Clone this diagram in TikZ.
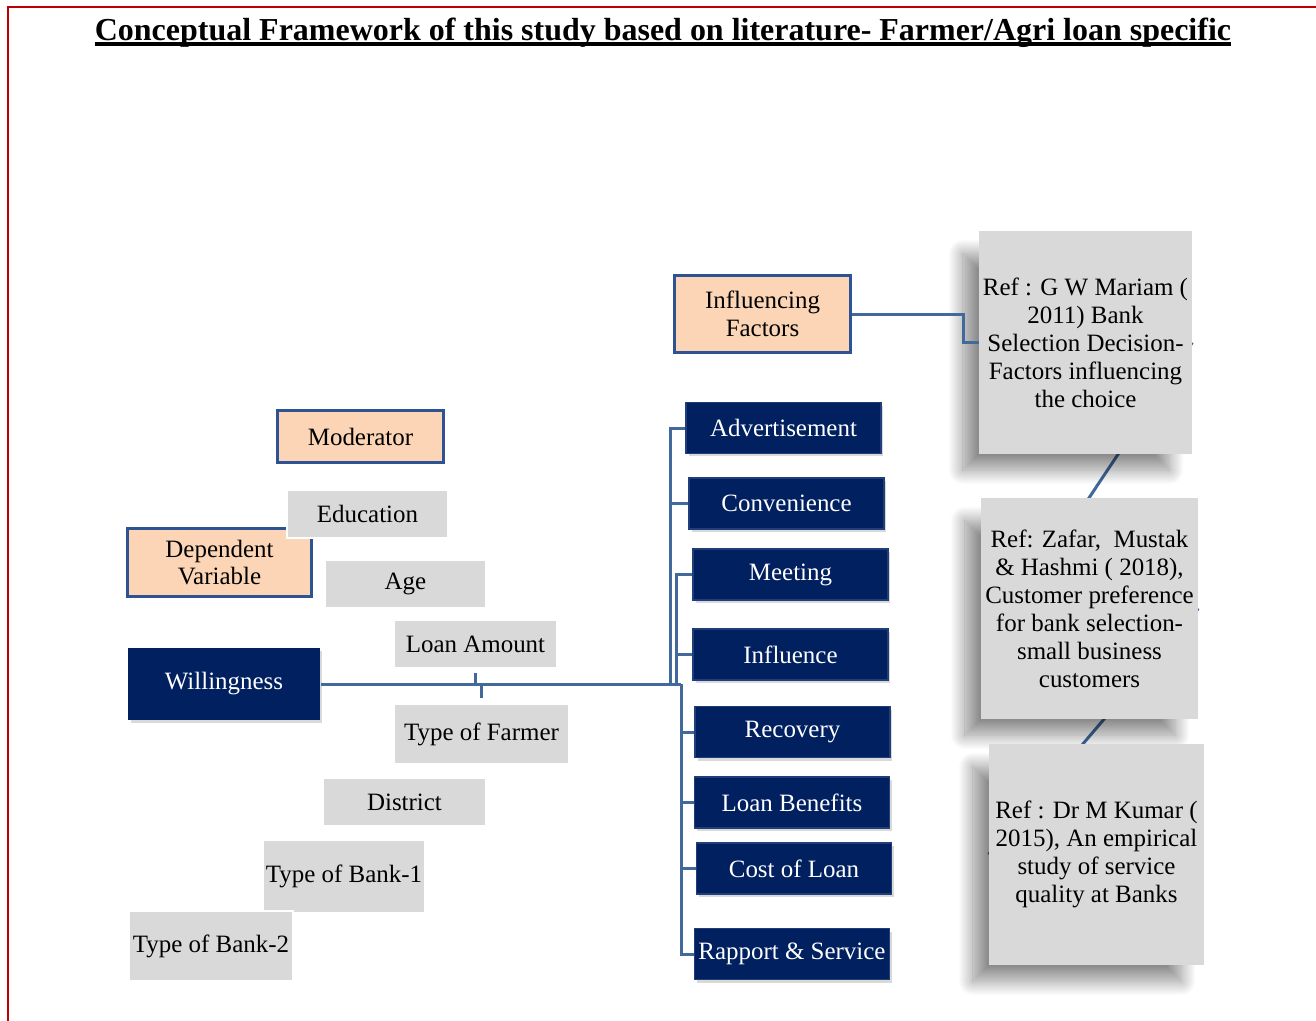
\documentclass[tikz,border=0pt]{standalone}
\usepackage{fontspec}
\setmainfont{Liberation Serif}
\usetikzlibrary{calc, shadows, shadows.blur}
\definecolor{navy}{HTML}{002060}
\definecolor{navyedge}{HTML}{1F3E7A}
\definecolor{peach}{HTML}{FBD5B5}
\definecolor{peachedge}{HTML}{2E5395}
\definecolor{lightgrey}{HTML}{D9D9D9}
\definecolor{linkblue}{HTML}{41699B}
\definecolor{framered}{HTML}{C00000}
\pgfdeclarelayer{background}
\pgfsetlayers{background,main}
\newcommand{\boxfont}{\fontsize{14.2}{15.9}\selectfont}

\begin{document}
\begin{tikzpicture}[x=0.02cm, y=-0.02cm,
  peachbox/.style={fill=peach, draw=peachedge, line width=0.06cm, font=\boxfont,
                   align=center, inner sep=0pt},
  greybox/.style={fill=lightgrey, draw=white, line width=0.04cm, font=\boxfont,
                  align=center, inner sep=0pt},
  navybox/.style={fill=navy, draw=navyedge, line width=0.03cm, text=white, font=\boxfont,
                  inner sep=0pt, minimum width=3.9cm, minimum height=1.02cm,
                  drop shadow={shadow xshift=0.05cm, shadow yshift=-0.06cm, opacity=0.3}},
  refbox/.style={fill=lightgrey, font=\boxfont, align=center, inner sep=0pt,
                 blur shadow={shadow xshift=-0.4cm, shadow yshift=-0.4cm, shadow scale=0.97,
                              shadow blur radius=0.3cm, shadow blur steps=25, shadow opacity=45}},
  conn/.style={linkblue, line width=0.06cm}
]
\useasboundingbox (0,0) rectangle (1316,1021);

% Frame and title
\draw[framered, line width=0.04cm] (8,1021) -- (8,7) -- (1316,7);
\node[font=\fontsize{18.2}{20}\selectfont\bfseries, inner sep=0pt, anchor=base] (title) at (663,40)
  {Conceptual Framework of this study based on literature- Farmer/Agri loan specific};
\draw[line width=0.08cm] ([yshift=-0.09cm]title.base west) -- ([yshift=-0.09cm]title.base east);

% Peach headings
\node[peachbox, minimum width=3.54cm, minimum height=1.56cm] (infl) at (762.5,314) {Influencing\\Factors};
\node[peachbox, minimum width=3.34cm, minimum height=1.06cm] (moder) at (360.5,436.5) {Moderator};
\node[peachbox, minimum width=3.7cm, minimum height=1.38cm] (depvar) at (219.5,562.5) {Dependent\\Variable};

% Moderators
\node[greybox, minimum width=3.22cm, minimum height=0.96cm] (educ) at (367.5,514) {Education};
\node[greybox, minimum width=3.22cm, minimum height=0.96cm] (age) at (405.5,584) {Age};
\node[greybox, minimum width=3.26cm, minimum height=0.96cm] (loanamt) at (475.5,644) {Loan Amount};
\node[greybox, minimum width=3.5cm, minimum height=1.2cm] (farmer) at (481.5,734) {Type of Farmer};
\node[greybox, minimum width=3.26cm, minimum height=0.96cm] (district) at (404.5,802) {District};
\node[greybox, minimum width=3.24cm, minimum height=1.46cm] (bank1) at (344,876.5) {Type of Bank-1};
\node[greybox, minimum width=3.28cm, minimum height=1.4cm] (bank2) at (211,946) {Type of Bank-2};

% Dependent variable
\node[navybox, draw=none, minimum width=3.84cm, minimum height=1.44cm] (will) at (224,684) {Willingness};

% Influencing factors
\node[navybox] (advert) at (783.5,428) {Advertisement};
\node[navybox] (conven) at (786.5,503.5) {Convenience};
\node[navybox] (meeting) at (790.5,574.5) {Meeting};
\node[navybox] (influ) at (790.5,654.5) {Influence};
\node[navybox] (recov) at (792.5,732) {Recovery};
\node[navybox] (benef) at (792,802.5) {Loan Benefits};
\node[navybox] (cost) at (794,868.5) {Cost of Loan};
\node[navybox] (rapport) at (792,954) {Rapport \& Service};

% References
\node[refbox, minimum width=4.26cm, minimum height=4.46cm] (ref1) at (1085.5,342.5)
  {Ref : G W Mariam (\\2011) Bank\\Selection Decision-\\Factors influencing\\the choice};
\node[refbox, minimum width=4.34cm, minimum height=4.42cm] (ref2) at (1089.5,608.5)
  {Ref: Zafar,\ \ Mustak\\\& Hashmi ( 2018),\\Customer preference\\for bank selection-\\small business\\customers};
\node[refbox, minimum width=4.3cm, minimum height=4.42cm] (ref3) at (1096.5,854.5)
  {Ref : Dr M Kumar (\\2015), An empirical\\study of service\\quality at Banks};

% Links between references
\begin{pgfonlayer}{background}
\draw[conn] (ref1.east) -- ($(ref2.west)!0.16!(ref2.east)$);
\draw[conn] (ref2.east) -- (ref3.west);
\end{pgfonlayer}

% Tree from Willingness
\coordinate (busA) at (670,684);
\coordinate (busB) at (676,684);
\coordinate (busC) at (681,684);
\draw[conn] (will.east) -- (busC);
\draw[conn] (busA) |- (advert.west);
\draw[conn] (busA) |- (conven.west);
\draw[conn] (busB) |- (meeting.west);
\draw[conn] (busB) |- (influ.west);
\draw[conn] (busC) |- (recov.west);
\draw[conn] (busC) |- (benef.west);
\draw[conn] (busC) |- (cost.west);
\draw[conn] (busC) |- (rapport.west);
\draw[conn, shorten <=0.08cm] (loanamt.south) -- (loanamt.south |- will.east);
\draw[conn, shorten <=0.1cm] (farmer.north) -- (farmer.north |- will.east);

% Influencing factors to first reference
\draw[conn] (infl.east) -- ++(111,0) |- (ref1.west);

\end{tikzpicture}
\end{document}
